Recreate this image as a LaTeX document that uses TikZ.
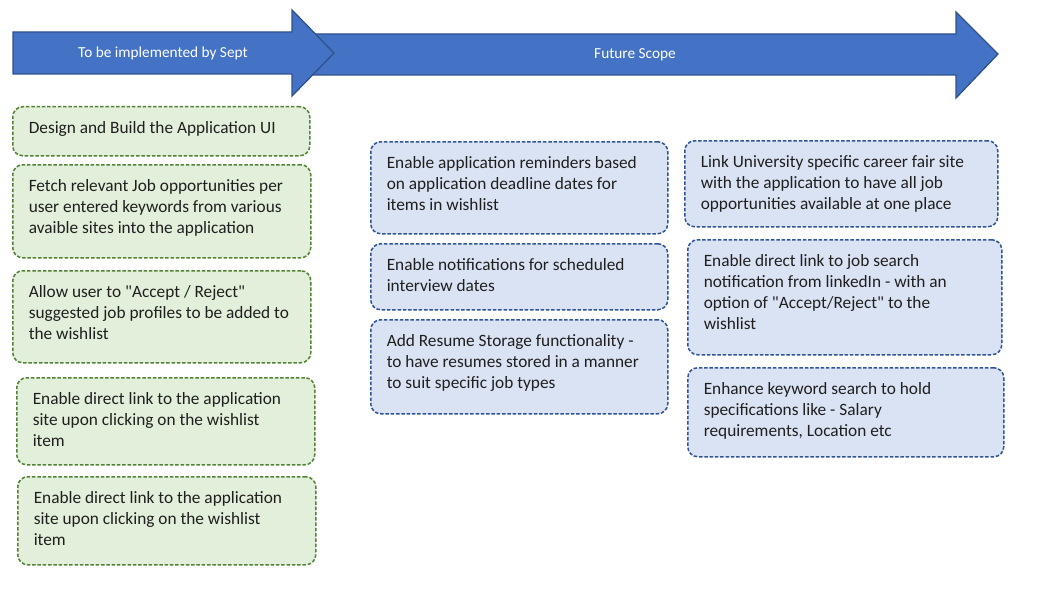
\documentclass[tikz,border=0pt]{standalone}
\usepackage{fontspec}
\setmainfont{Carlito}
\definecolor{arrowblue}{HTML}{4472C4}
\definecolor{arrowline}{HTML}{2F528F}
\definecolor{greenfill}{HTML}{E2EFDA}
\definecolor{greenline}{HTML}{548235}
\definecolor{bluefill}{HTML}{DAE3F3}
\definecolor{blueline}{HTML}{2F5597}
\newcommand{\tasktext}[3]{\parbox[c][#2pt][t]{#1pt}{\raggedright\strut #3}}

\begin{document}
\begin{tikzpicture}[x=1pt,y=-1pt,
    task/.style={draw,line width=1.5pt,dash pattern=on 3.5pt off 1.8pt,rounded corners=10pt,
        anchor=north west,inner xsep=16pt,inner ysep=12pt,text=black!88,
        font=\fontsize{17.3}{21}\selectfont},
    nowtask/.style={task,draw=greenline,fill=greenfill},
    latertask/.style={task,draw=blueline,fill=bluefill},
    phase/.style={text=white,font=\fontsize{15.3}{18}\selectfont}]
            \useasboundingbox (0,0) rectangle (1056,591);
            % timeline arrows
            \draw[arrowline,fill=arrowblue,line width=1.3pt] (300,34)--(956,34)--(956,12)--(998,54)--(956,98)--(956,75)--(300,75)--cycle;
            \draw[arrowline,fill=arrowblue,line width=1.3pt] (13,32)--(292,32)--(292,10)--(334,53)--(292,96)--(292,74)--(13,74)--cycle;
            \node[phase] (sept) at (163,53) {To be implemented by Sept};
            \node[phase] (future) at (635,55) {Future Scope};
            % by Sept
            \node[nowtask] (buildui) at (12,106) {\tasktext{265}{25}{Design and Build the Application UI}};
            \node[nowtask] (fetchjobs) at (12,164) {\tasktext{266}{69}{Fetch relevant Job opportunities per\\ user entered keywords from various\\ avaible sites into the application}};
            \node[nowtask] (acceptreject) at (12,270) {\tasktext{266}{68}{Allow user to \textquotedbl Accept / Reject\textquotedbl\\ suggested job profiles to be added to\\ the wishlist}};
            \node[nowtask] (applink) at (16,377) {\tasktext{266}{63}{Enable direct link to the application\\ site upon clicking on the wishlist\\ item}};
            \node[nowtask] (applinkb) at (17,476) {\tasktext{266}{64}{Enable direct link to the application\\ site upon clicking on the wishlist\\ item}};
            % future scope
            \node[latertask] (reminders) at (370,141) {\tasktext{265}{68}{Enable application reminders based\\ on application deadline dates for\\ items in wishlist}};
            \node[latertask] (interviews) at (370,243) {\tasktext{265}{42}{Enable notifications for scheduled\\ interview dates}};
            \node[latertask] (resumes) at (370,319) {\tasktext{265}{70}{Add Resume Storage functionality -\\ to have resumes stored in a manner\\ to suit specific job types}};
            \node[latertask] (careerfair) at (684,140) {\tasktext{281}{62}{Link University specific career fair site\\ with the application to have all job\\ opportunities available at one place}};
            \node[latertask] (linkedin) at (687,239) {\tasktext{282}{91}{Enable direct link to job search\\ notification from linkedIn - with an\\ option of \textquotedbl Accept/Reject\textquotedbl{} to the\\ wishlist}};
            \node[latertask] (keywords) at (687,367) {\tasktext{284}{65}{Enhance keyword search to hold\\ specifications like - Salary\\ requirements, Location etc}};
        \end{tikzpicture}
\end{document}
